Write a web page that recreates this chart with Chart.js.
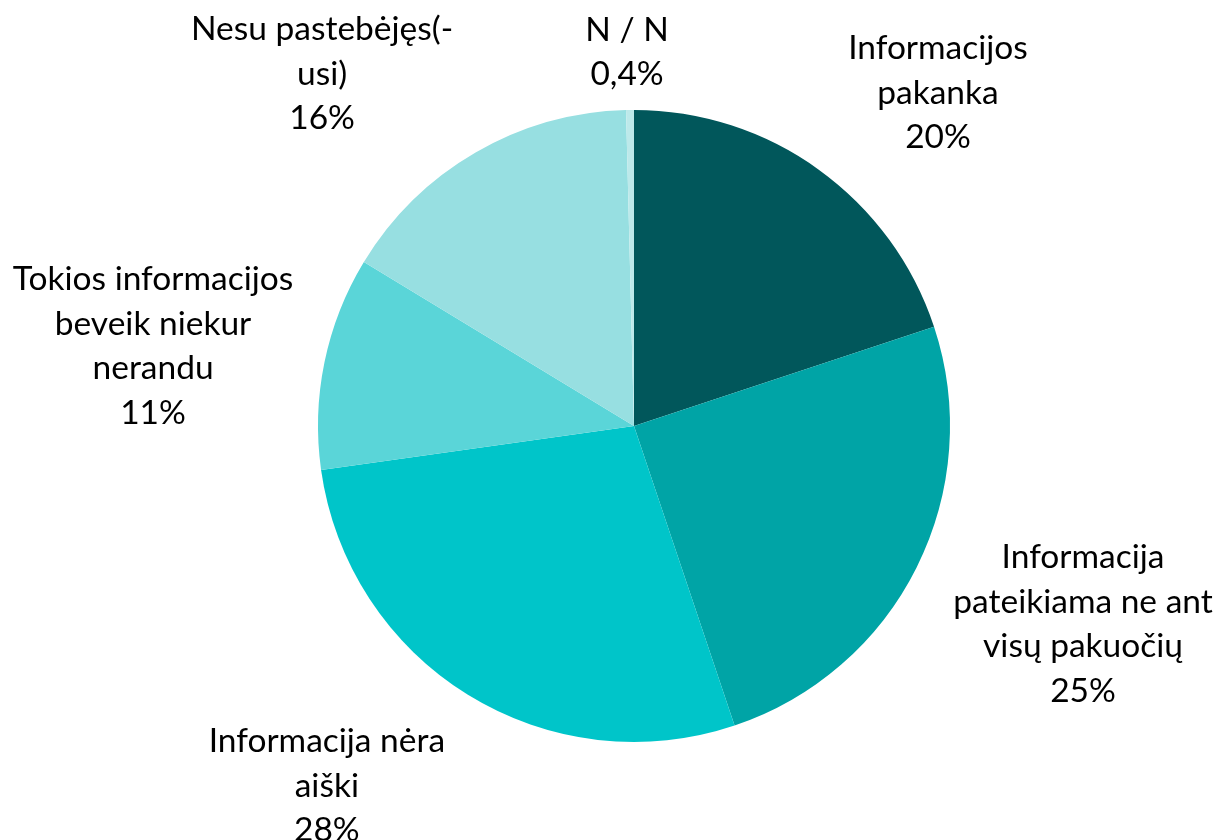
<!DOCTYPE html>
<html>
<head>
<meta charset="utf-8">
<script src="https://cdn.jsdelivr.net/npm/chart.js@4"></script>
<style>
html,body{margin:0;padding:0;background:#fff;}
#wrap{width:1217px;height:840px;position:relative;}
</style>
</head>
<body>
<div id="wrap"><canvas id="c" width="1217" height="840"></canvas></div>
<script>
// Data
const categories = [
  ["Informacijos", "pakanka"],
  ["Informacija", "pateikiama ne ant", "visų pakuočių"],
  ["Informacija nėra", "aiški"],
  ["Tokios informacijos", "beveik niekur", "nerandu"],
  ["Nesu pastebėjęs(-", "usi)"],
  ["N / N"]
];
const values = [19.9, 24.9, 27.9, 10.9, 15.9, 0.4];
const colors = ["#01575B", "#00A4A6", "#00C5C9", "#5AD5D8", "#97DFE1", "#BDE9EA"];

// Label placement (offsets of label block centre from pie centre, in radii)
const labelOffsets = [
  [0.962, -1.054],
  [1.421, 0.628],
  [-0.972, 1.139],
  [-1.522, -0.253],
  [-0.987, -1.114],
  [-0.022, -1.183]
];

function fmtPct(v){
  const r = v < 1 ? (Math.round(v*10)/10).toString().replace('.', ',') : Math.round(v).toString();
  return r + '%';
}

const FONT = '33.5px Lato, "Open Sans", sans-serif';
const LINE_H = 44.5;

const labelPlugin = {
  id: 'outerLabels',
  afterDatasetsDraw(chart){
    const ctx = chart.ctx;
    const meta = chart.getDatasetMeta(0);
    const arc0 = meta.data[0];
    const cx = arc0.x, cy = arc0.y, r = arc0.outerRadius;
    ctx.save();
    ctx.font = FONT;
    ctx.fillStyle = '#000';
    ctx.textAlign = 'center';
    ctx.textBaseline = 'middle';
    meta.data.forEach((arc, i) => {
      const lines = categories[i].concat([fmtPct(values[i])]);
      const bx = cx + labelOffsets[i][0]*r;
      const by = cy + labelOffsets[i][1]*r;
      const top = by - (lines.length-1)*LINE_H/2;
      lines.forEach((t, j) => ctx.fillText(t, bx, top + j*LINE_H));
    });
    ctx.restore();
  }
};

new Chart(document.getElementById('c'), {
  type: 'pie',
  data: {
    labels: categories.map(c => c.join(' ')),
    datasets: [{
      data: values,
      backgroundColor: colors,
      borderWidth: 0
    }]
  },
  options: {
    responsive: false,
    animation: false,
    layout: { padding: { top: 110, bottom: 98, left: 318, right: 267 } },
    plugins: { legend: { display: false }, tooltip: { enabled: false } }
  },
  plugins: [labelPlugin]
});
</script>
</body>
</html>
